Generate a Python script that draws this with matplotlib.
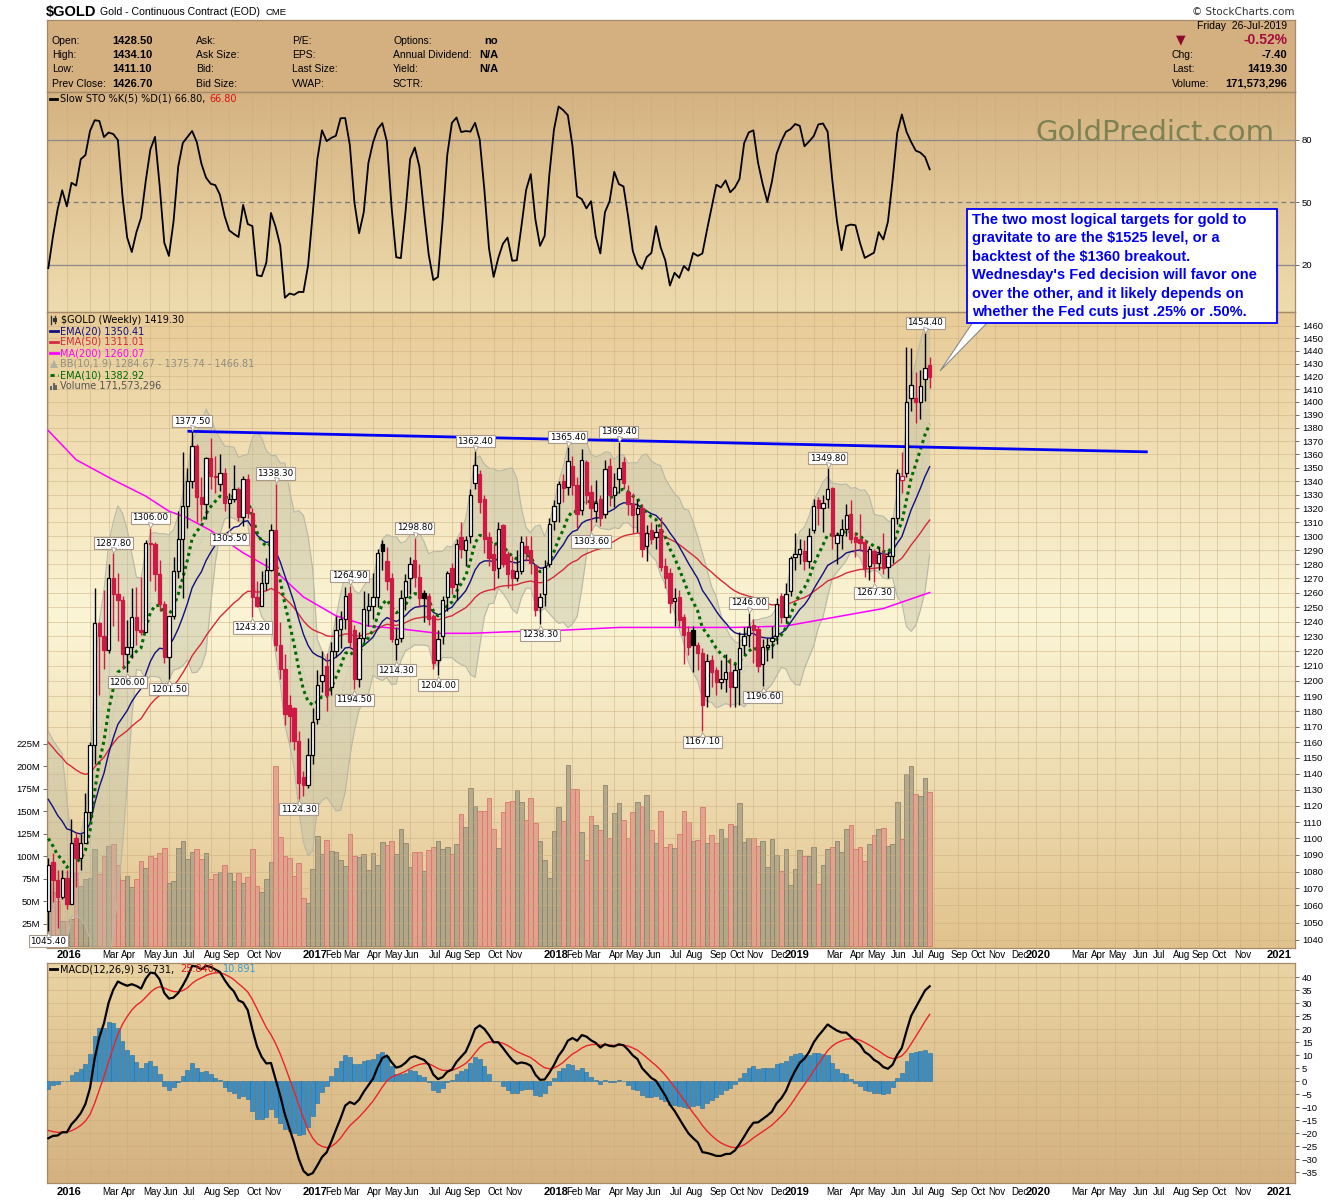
import numpy as np
import pandas as pd
import matplotlib
matplotlib.use("Agg")
import matplotlib.pyplot as plt
from matplotlib.colors import LinearSegmentedColormap
from matplotlib.patches import Rectangle, Polygon
from matplotlib.lines import Line2D
from matplotlib.ticker import NullLocator
import matplotlib.transforms as mtransforms

# ---------------------------------------------------------------- data
first_week = "2015-12-04"          # week ending date of first candle

# weeks before the first visible candle (only used to warm up STO / BB)
warm_open = [1177, 1164, 1142, 1088, 1081, 1076]
warm_high = [1180, 1180, 1143, 1097, 1091, 1080]
warm_low = [1160, 1139, 1085, 1074, 1062, 1052]
warm_close = [1164, 1142, 1088, 1081, 1076, 1057]

opens = [1057, 1086, 1075, 1065, 1076, 1061, 1100, 1088, 1097, 1116,
         1158, 1239, 1230, 1221, 1270, 1259, 1255, 1218, 1223, 1243,
         1234, 1233, 1295, 1294, 1273, 1252, 1216, 1244, 1275, 1298,
         1322, 1340, 1366, 1328, 1323, 1357, 1344, 1338, 1346, 1324,
         1327, 1334, 1314, 1342, 1317, 1257, 1251, 1267, 1276, 1304,
         1224, 1208, 1184, 1182, 1161, 1138, 1133, 1152, 1175, 1200,
         1210, 1196, 1220, 1235, 1242, 1260, 1234, 1201, 1229, 1248,
         1251, 1257, 1294, 1282, 1270, 1225, 1229, 1257, 1270, 1283,
         1271, 1260, 1258, 1244, 1214, 1230, 1257, 1277, 1266, 1299,
         1290, 1300, 1339, 1345, 1327, 1299, 1287, 1277, 1308, 1287,
         1276, 1270, 1275, 1293, 1290, 1279, 1250, 1259, 1280, 1311,
         1324, 1340, 1336, 1351, 1337, 1319, 1354, 1332, 1318, 1327,
         1316, 1351, 1330, 1342, 1354, 1332, 1323, 1316, 1320, 1293,
         1304, 1299, 1305, 1279, 1274, 1254, 1257, 1243, 1233, 1234,
         1224, 1219, 1190, 1214, 1207, 1199, 1201, 1206, 1196, 1208,
         1224, 1231, 1238, 1235, 1211, 1223, 1227, 1230, 1258, 1243,
         1261, 1285, 1287, 1289, 1282, 1304, 1326, 1320, 1327, 1335,
         1295, 1301, 1305, 1316, 1299, 1298, 1296, 1279, 1289, 1281,
         1287, 1278, 1286, 1313, 1341, 1346, 1403, 1403, 1400, 1418, 1428.5]
highs = [1088, 1091, 1081, 1081, 1081, 1112, 1104, 1103, 1128, 1160,
         1263, 1240, 1262, 1280, 1287.8, 1274, 1258, 1241, 1263, 1264,
         1271, 1297, 1306, 1296, 1283, 1254, 1244, 1285, 1318, 1362,
         1350, 1377.5, 1368, 1343, 1358, 1372, 1359, 1360, 1350, 1331,
         1352, 1336, 1344, 1345, 1320, 1268, 1275, 1284, 1309, 1338.3,
         1240, 1218, 1191, 1183, 1167, 1142, 1163, 1182, 1207, 1220,
         1219, 1226, 1244, 1247, 1264, 1264.9, 1238, 1233, 1261, 1260,
         1274, 1291, 1297, 1292, 1274, 1236, 1262, 1273, 1285, 1298.8,
         1280, 1262, 1260, 1245, 1234, 1258, 1275, 1281, 1298, 1310,
         1300, 1334, 1362.4, 1348, 1330, 1303, 1294, 1310, 1309, 1289,
         1286, 1290, 1300, 1300, 1300, 1280, 1260, 1283, 1313, 1326,
         1340, 1345, 1365.4, 1359, 1343, 1364, 1356, 1337, 1341, 1330,
         1356, 1357, 1346, 1369.4, 1358, 1337, 1331, 1327, 1323, 1308,
         1310, 1309, 1314, 1284, 1277, 1263, 1262, 1245, 1237, 1237,
         1226, 1222, 1218, 1217, 1209, 1214, 1218, 1215, 1211, 1233,
         1236, 1246, 1242, 1237, 1228, 1229, 1237, 1256, 1260, 1267,
         1286, 1302, 1298, 1297, 1306, 1327, 1328, 1330, 1349.8, 1336,
         1303, 1312, 1323, 1326, 1303, 1316, 1298, 1293, 1291, 1292,
         1302, 1289, 1313, 1349, 1362, 1443, 1442, 1423, 1425, 1454.4, 1435]
lows = [1045.4, 1062, 1047, 1064, 1058, 1061, 1071, 1081, 1097, 1111,
        1146, 1191, 1208, 1219, 1237, 1227, 1208, 1206, 1215, 1224,
        1231, 1233, 1268, 1261, 1247, 1212, 1201.5, 1242, 1270, 1256,
        1306, 1335, 1310, 1311, 1312, 1334, 1331, 1333, 1318, 1305.5,
        1325, 1311, 1307, 1313, 1243.2, 1250, 1251, 1262, 1275, 1220,
        1201, 1171, 1160, 1155, 1124.3, 1126, 1131, 1146, 1172, 1193,
        1180, 1191, 1216, 1222, 1235, 1222, 1194.5, 1196, 1226, 1237,
        1242, 1250, 1276, 1262, 1226, 1214.3, 1226, 1248, 1259, 1264,
        1250, 1240, 1238, 1208, 1204, 1225, 1247, 1259, 1255, 1284,
        1279, 1295, 1334, 1317, 1288, 1279, 1262, 1270, 1278, 1263,
        1262, 1268, 1273, 1282, 1273, 1244, 1238.3, 1251, 1278, 1304,
        1310, 1325, 1330, 1330, 1306, 1315, 1323, 1303.6, 1310, 1307,
        1313, 1322, 1321, 1331, 1334, 1315, 1302, 1303, 1285, 1282,
        1294, 1291, 1275, 1263, 1246, 1237, 1236, 1211, 1217, 1206,
        1207, 1167.1, 1183, 1196, 1191, 1195, 1193, 1183, 1183, 1184,
        1218, 1223, 1212, 1206, 1196.6, 1213, 1215, 1225, 1239, 1240,
        1258, 1276, 1280, 1276, 1277, 1302, 1308, 1303, 1320, 1291,
        1280, 1291, 1300, 1295, 1285, 1289, 1271, 1269, 1267.3, 1276,
        1273, 1270, 1281, 1309, 1331, 1343, 1393, 1384, 1387, 1401, 1411.1]
closes = [1084, 1075, 1065, 1076, 1061, 1097, 1088, 1097, 1116, 1158,
          1239, 1230, 1221, 1270, 1259, 1255, 1218, 1223, 1243, 1234,
          1233, 1295, 1294, 1273, 1252, 1216, 1244, 1275, 1298, 1322,
          1340, 1366, 1328, 1323, 1357, 1344, 1343, 1346, 1324, 1327,
          1334, 1314, 1342, 1317, 1257, 1251, 1267, 1276, 1304, 1224,
          1208, 1178, 1177, 1161, 1134, 1133, 1152, 1173, 1197, 1204,
          1191, 1220, 1234, 1242, 1258, 1226, 1201, 1229, 1249, 1251,
          1257, 1288, 1289, 1268, 1228, 1228, 1256, 1268, 1280, 1271,
          1256, 1256, 1242, 1212, 1228, 1255, 1274, 1264, 1294, 1291,
          1297, 1330, 1352, 1325, 1298, 1284, 1276, 1305, 1280, 1273,
          1270, 1275, 1296, 1288, 1281, 1248, 1257, 1278, 1309, 1322,
          1338, 1335, 1355, 1337, 1316, 1356, 1330, 1320, 1324, 1313,
          1349, 1330, 1336, 1350, 1339, 1323, 1315, 1320, 1291, 1302,
          1298, 1303, 1278, 1270, 1253, 1256, 1241, 1231, 1223, 1224,
          1219, 1184, 1213, 1206, 1199, 1201, 1206, 1196, 1207, 1222,
          1230, 1236, 1234, 1210, 1223, 1224, 1229, 1252, 1243, 1259,
          1284, 1287, 1291, 1282, 1300, 1322, 1320, 1324, 1334, 1300,
          1301, 1305, 1315, 1298, 1296, 1295, 1277, 1291, 1281, 1287,
          1277, 1286, 1313, 1346, 1344, 1400, 1413, 1400, 1412, 1426.7, 1419.3]
volume_millions = [70, 60, 50, 28, 28, 30, 82, 67, 75, 76,
                   108, 81, 100, 112, 114, 91, 74, 78, 66, 75,
                   95, 87, 101, 98, 104, 109, 70, 73, 109, 117,
                   97, 105, 108, 97, 104, 75, 80, 83, 90, 82,
                   73, 82, 70, 77, 108, 67, 61, 75, 94, 200,
                   122, 100, 98, 78, 93, 54, 48, 86, 123, 103,
                   118, 106, 105, 96, 89, 125, 101, 99, 103, 85,
                   104, 91, 116, 113, 117, 103, 130, 115, 88, 105,
                   105, 84, 107, 110, 117, 108, 110, 103, 114, 147,
                   133, 176, 156, 150, 150, 165, 130, 109, 149, 161,
                   162, 174, 160, 140, 165, 137, 117, 96, 76, 128,
                   155, 139, 202, 175, 175, 127, 96, 145, 135, 129,
                   179, 120, 148, 159, 141, 121, 149, 161, 156, 168,
                   129, 115, 150, 111, 114, 109, 125, 150, 138, 117,
                   118, 155, 115, 124, 115, 131, 121, 136, 134, 159,
                   116, 121, 121, 112, 117, 88, 119, 102, 84, 108,
                   68, 86, 107, 101, 101, 110, 69, 90, 108, 110,
                   117, 105, 130, 135, 108, 110, 95, 114, 124, 130,
                   132, 112, 114, 160, 119, 192, 200, 169, 167, 187, 171.57]

# 200-week MA (week index, value)
ma200_week = [0, 6, 14, 21, 26, 30, 35, 42, 49, 55, 62, 69, 76, 84, 91, 99,
              110, 123, 135, 148, 159, 166, 173, 180, 190]
ma200_value = [1378, 1356, 1341, 1329, 1318, 1313, 1304, 1288, 1275, 1257, 1244,
               1237, 1235, 1232, 1232, 1233, 1234, 1236, 1236, 1236, 1237, 1241,
               1245, 1249, 1260.07]

# starting values of the moving averages at the first candle
ema10_start, ema20_start, ema50_start = 1100, 1124, 1160
ema12_start, ema26_start, signal_start = 1084, 1106, -19

# labelled highs / lows
label_week = [14, 22, 31, 49, 65, 79, 92, 112, 123, 151, 168, 189,
              0, 17, 26, 39, 44, 54, 66, 75, 84, 106, 117, 141, 154, 178]
label_value = [1287.80, 1306.00, 1377.50, 1338.30, 1264.90, 1298.80, 1362.40,
               1365.40, 1369.40, 1246.00, 1349.80, 1454.40,
               1045.40, 1206.00, 1201.50, 1305.50, 1243.20, 1124.30, 1194.50,
               1214.30, 1204.00, 1238.30, 1303.60, 1167.10, 1196.60, 1267.30]
label_kind = ['h'] * 12 + ['l'] * 14

# blue resistance line (week index, price)
trend_week = [30, 237]
trend_price = [1377.5, 1361.9]

# axis labels shown per year (month numbers, 1 = year label)
axis_label_months = {2016: [1, 3, 4, 5, 6, 7, 8, 9, 10, 11],
                     2017: [1, 2, 3, 4, 5, 6, 7, 8, 9, 10, 11],
                     2018: [1, 2, 3, 4, 5, 6, 7, 8, 9, 10, 11, 12],
                     2019: [1, 3, 4, 5, 6, 7, 8, 9, 10, 11, 12],
                     2020: [1, 3, 4, 5, 6, 7, 8, 9, 10, 11],
                     2021: [1]}
month_names = ['Jan', 'Feb', 'Mar', 'Apr', 'May', 'Jun', 'Jul', 'Aug', 'Sep', 'Oct', 'Nov', 'Dec']

price_ticks = list(range(1040, 1461, 10))
volume_ticks_m = [25, 50, 75, 100, 125, 150, 175, 200, 225]
macd_ticks = list(range(-35, 41, 5))
sto_ticks = [20, 50, 80]

callout_text = ("The two most logical targets for gold to\n"
                "gravitate to are the $1525 level, or a\n"
                "backtest of the $1360 breakout.\n"
                "Wednesday's Fed decision will favor one\n"
                "over the other, and it likely depends on\n"
                "whether the Fed cuts just .25% or .50%.")

# ---------------------------------------------------------------- indicators
O = np.array(opens, float); Hh = np.array(highs, float)
Lw = np.array(lows, float); C = np.array(closes, float)
V = np.array(volume_millions, float) * 1e6
n = len(C)
idx = np.arange(n)
nw = len(warm_close)


def ema(values, span, seed):
    k = 2.0 / (span + 1)
    out = np.empty(len(values))
    out[0] = seed
    for j in range(1, len(values)):
        out[j] = out[j - 1] + k * (values[j] - out[j - 1])
    return out


ema10 = ema(C, 10, ema10_start)
ema20 = ema(C, 20, ema20_start)
ema50 = ema(C, 50, ema50_start)
macd = ema(C, 12, ema12_start) - ema(C, 26, ema26_start)
signal = ema(macd, 9, signal_start)
hist = macd - signal

allC = pd.Series(list(warm_close) + list(C))
allH = pd.Series(list(warm_high) + list(Hh))
allL = pd.Series(list(warm_low) + list(Lw))
mid = allC.rolling(10, min_periods=5).mean()
sd = allC.rolling(10, min_periods=5).std(ddof=0)
bb_mid = mid.values[nw:]
bb_up = (mid + 1.9 * sd).values[nw:]
bb_lo = (mid - 1.9 * sd).values[nw:]

hh = allH.rolling(5, min_periods=1).max()
ll = allL.rolling(5, min_periods=1).min()
fastk = 100 * (allC - ll) / (hh - ll)
slowk = fastk.rolling(3, min_periods=1).mean().values[nw:]

prevC = np.concatenate([[warm_close[-1]], C[:-1]])
up = C >= prevC

# ---------------------------------------------------------------- layout
W, Hpx = 1340, 1200
fig = plt.figure(figsize=(W / 100, Hpx / 100), dpi=100)
fig.patch.set_facecolor('white')
X0, X1 = 47, 1295
XMIN, XMAX = -0.28, 268.75
SANS = 'Liberation Sans'
LEG = 'DejaVu Sans'
SPINE = '#A58B6A'
GRID = '#C8AC7E'


def add_ax(y0, y1, z=1):
    a = fig.add_axes([X0 / W, 1 - y1 / Hpx, (X1 - X0) / W, (y1 - y0) / Hpx])
    a.set_zorder(z)
    return a


def background(y0, y1, stops):
    b = add_ax(y0, y1, z=0)
    cmap = LinearSegmentedColormap.from_list('bg', stops)
    b.imshow(np.linspace(0, 1, 256).reshape(-1, 1), aspect='auto', cmap=cmap,
             extent=[0, 1, 0, 1], origin='upper')
    b.set_xlim(0, 1); b.set_ylim(0, 1)
    b.axis('off')
    return b


def ftext(x, y, s, **kw):
    return fig.text(x / W, 1 - y / Hpx, s, **kw)


renderer = fig.canvas.get_renderer()


def text_runs(x, y, pieces, size=7, family=LEG, gap=4.5):
    for s, col in pieces:
        t = ftext(x, y, s.rstrip(), color=col, ha='left', va='center', fontsize=size,
                  family=family, zorder=40)
        x += t.get_window_extent(renderer=renderer).width
        if s.endswith(' '):
            x += gap
    return x


def swatch(x0, x1, y, color, ls='-', lw=2):
    fig.add_artist(Line2D([x0 / W, x1 / W], [1 - y / Hpx, 1 - y / Hpx], color=color,
                          lw=lw, ls=ls, transform=fig.transFigure, zorder=40))


def frect(x0, y0, x1, y1, **kw):
    fig.add_artist(Rectangle((x0 / W, 1 - y1 / Hpx), (x1 - x0) / W, (y1 - y0) / Hpx,
                             transform=fig.transFigure, **kw))


# month gridline positions
dates = pd.date_range(first_week, periods=280, freq='W-FRI')
first_idx = {}
for j, d in enumerate(dates):
    key = (d.year, d.month)
    if key not in first_idx:
        first_idx[key] = j
grid_x = [v for k, v in first_idx.items() if XMIN <= v <= XMAX]


def style_panel(a):
    a.set_xlim(XMIN, XMAX)
    a.patch.set_visible(False)
    for s in a.spines.values():
        s.set_color(SPINE); s.set_linewidth(0.9)
    a.set_xticks(grid_x)
    a.tick_params(axis='x', length=0, labelbottom=False)
    a.yaxis.tick_right()
    a.tick_params(axis='y', which='major', direction='out', length=3, width=0.6,
                  colors='#555555', labelsize=6.8, labelcolor='black', pad=2)
    a.grid(True, color=GRID, lw=0.6, alpha=0.55, zorder=1)
    a.set_axisbelow(True)


def axis_labels(ypx):
    for yr, months in axis_label_months.items():
        for m in months:
            if (yr, m) not in first_idx:
                continue
            pos = first_idx[(yr, m)]
            xp = X0 + (pos + 0.4 - XMIN) / (XMAX - XMIN) * (X1 - X0)
            if m == 1:
                ftext(xp, ypx, str(yr), ha='center', va='center', fontsize=8,
                      fontweight='bold', family=SANS)
            else:
                ftext(xp, ypx, month_names[m - 1], ha='center', va='center',
                      fontsize=7, family=SANS)


# ---------------------------------------------------------------- title / header
ftext(46, 12, '$GOLD', fontsize=10.5, fontweight='bold', family=SANS, va='center')
ftext(100, 12, 'Gold - Continuous Contract (EOD)', fontsize=7.6, family=SANS, va='center')
ftext(266, 12.5, 'CME', fontsize=6.8, family=SANS, va='center')
ftext(1294, 12, '\u00a9 StockCharts.com', fontsize=7.5, family=LEG, va='center',
      ha='right', color='#333333')

hdr = add_ax(20, 92, z=1)
hdr.set_facecolor('#D4B081')
hdr.set_xticks([]); hdr.set_yticks([])
for s in hdr.spines.values():
    s.set_color(SPINE); s.set_linewidth(0.9)

LBL, VAL = 7.5, 8.0
rows_y = [41, 55, 69, 84]
for lbl, val, yy in zip(['Open:', 'High:', 'Low:', 'Prev Close:'],
                        ['1428.50', '1434.10', '1411.10', '1426.70'], rows_y):
    ftext(52, yy, lbl, fontsize=LBL, family=SANS, va='center')
    ftext(112, yy, val, fontsize=VAL, family=SANS, fontweight='bold', va='center')
for lbl, yy in zip(['Ask:', 'Ask Size:', 'Bid:', 'Bid Size:'], rows_y):
    ftext(196, yy, lbl, fontsize=LBL, family=SANS, va='center')
for lbl, yy in zip(['P/E:', 'EPS:', 'Last Size:', 'VWAP:'], rows_y):
    ftext(292, yy, lbl, fontsize=LBL, family=SANS, va='center')
for lbl, val, yy in zip(['Options:', 'Annual Dividend:', 'Yield:', 'SCTR:'],
                        ['no', 'N/A', 'N/A', ''], rows_y):
    ftext(393, yy, lbl, fontsize=LBL, family=SANS, va='center')
    ftext(498, yy, val, fontsize=VAL, family=SANS, fontweight='bold', va='center', ha='right')

ftext(1287, 26, 'Friday  26-Jul-2019', fontsize=LBL, family=SANS, va='center', ha='right')
ftext(1181, 40, '\u25bc', fontsize=9, family=LEG, va='center', ha='center', color='#8C0A2E')
ftext(1287, 40, '-0.52%', fontsize=10, family=SANS, fontweight='bold', va='center',
      ha='right', color='#A3103D')
for lbl, val, yy in zip(['Chg:', 'Last:', 'Volume:'], ['-7.40', '1419.30', '171,573,296'],
                        [55, 69, 84]):
    ftext(1172, yy, lbl, fontsize=LBL, family=SANS, va='center')
    ftext(1287, yy, val, fontsize=VAL, family=SANS, fontweight='bold', va='center', ha='right')

# ---------------------------------------------------------------- STO panel
background(92, 312, [(0, '#D5B281'), (1, '#EEDCAE')])
ax_s = add_ax(92, 312, z=2)
style_panel(ax_s)
ax_s.set_ylim(-2.6, 103)
ax_s.set_yticks(sto_ticks)
ax_s.grid(False, axis='y')
for lvl in (80, 20):
    ax_s.axhline(lvl, color='#8A8A8A', lw=0.9, zorder=2)
ax_s.axhline(50, color='#7A7A7A', lw=0.9, ls=(0, (4, 3)), zorder=2)
ax_s.plot(idx, slowk, color='black', lw=1.3, zorder=5)
for lab in ax_s.get_yticklabels():
    lab.set_family(SANS)
swatch(50, 57, 98.5, 'black', lw=2)
text_runs(60, 98.5, [('Slow STO %K(5) %D(1) 66.80, ', 'black'), ('66.80', '#E01010')])

ftext(1155, 133, 'GoldPredict.com', fontsize=21, family=LEG, color='#7E8152',
      ha='center', va='center', zorder=35)

# ---------------------------------------------------------------- price panel
background(312, 948, [(0, '#E8CB97'), (0.48, '#FBF5D6'), (1, '#E1C28C')])
ax_v = add_ax(312, 948, z=1)
ax_v.set_xlim(XMIN, XMAX)
ax_v.set_ylim(-1.7e6, 705e6)
ax_v.patch.set_visible(False)
for s in ax_v.spines.values():
    s.set_visible(False)
ax_v.set_xticks([])
ax_v.set_yticks([t * 1e6 for t in volume_ticks_m])
ax_v.set_yticklabels([f'{t}M' for t in volume_ticks_m])
ax_v.tick_params(axis='y', direction='out', length=3, width=0.6, colors='#555555',
                 labelsize=6.8, labelcolor='black', pad=2)
for lab in ax_v.get_yticklabels():
    lab.set_family(SANS)
vol_face = np.where(up, '#ABA187', '#E29C8C')
vol_edge = np.where(up, '#8C846E', '#D6766C')
ax_v.bar(idx, V, width=1.0, color=vol_face, edgecolor=vol_edge, linewidth=0.7,
         alpha=0.85, zorder=2)

ax_p = add_ax(312, 948, z=2)
ax_p.set_yscale('log')
style_panel(ax_p)
ax_p.set_ylim(1035.4, 1471.3)
ax_p.set_yticks(price_ticks)
ax_p.set_yticklabels([str(t) for t in price_ticks])
ax_p.yaxis.set_minor_locator(NullLocator())
for a in (ax_s, ax_p):
    for lab in a.get_yticklabels():
        lab.set_family(SANS)

# Bollinger bands
ax_p.fill_between(idx, bb_lo, bb_up, color='#B9BBA2', alpha=0.4, lw=0, zorder=2)
ax_p.plot(idx, bb_up, color='#B8B8A8', lw=0.8, zorder=2.1)
ax_p.plot(idx, bb_lo, color='#B8B8A8', lw=0.8, zorder=2.1)
ax_p.plot(idx, bb_mid, color='#C9C9C0', lw=0.8, ls=(0, (1.5, 1.5)), zorder=2.2)

ax_p.plot(ma200_week, ma200_value, color='#FF00FF', lw=1.1, zorder=3)
ax_p.plot(idx, ema50, color='#D42A3C', lw=1.0, zorder=3)
ax_p.plot(idx, ema20, color='#101080', lw=1.0, zorder=3)
ax_p.plot(idx, ema10, color='#006A00', lw=2.2, ls=(0, (1, 1.2)), zorder=3.5)
ax_p.plot(trend_week, trend_price, color='#0000F5', lw=2.0, zorder=4,
          solid_capstyle='butt')

RED = '#CC1A44'
for i in range(n):
    col = 'black' if up[i] else RED
    filled = C[i] < O[i]
    ax_p.plot([i, i], [Lw[i], Hh[i]], color=col, lw=1.0, zorder=5,
              solid_capstyle='butt')
    lo_b, hi_b = min(O[i], C[i]), max(O[i], C[i])
    if hi_b - lo_b < 0.6:
        hi_b = lo_b + 0.6
    ax_p.add_patch(Rectangle((i - 0.36, lo_b), 0.72, hi_b - lo_b,
                             facecolor=col if filled else 'white', edgecolor=col,
                             lw=0.9, zorder=6))

for wk, val, kind in zip(label_week, label_value, label_kind):
    dy = 10 if kind == 'h' else -10.5
    ax_p.annotate(f'{val:.2f}', xy=(wk, val), xytext=(0, dy * 0.72),
                  textcoords='offset points', ha='center', va='center',
                  fontsize=6.3, family=LEG, zorder=20, annotation_clip=False,
                  bbox=dict(boxstyle='square,pad=0.18', fc='white', ec='#A8998A', lw=0.8))
    tr = mtransforms.offset_copy(ax_p.transData, fig=fig, x=0,
                                 y=(3.2 if kind == 'h' else -3.2) * 0.72, units='points')
    ax_p.plot([wk], [val], marker='v' if kind == 'h' else '^', ms=3.6, mfc='white',
              mec='#A8998A', mew=0.6, transform=tr, zorder=21, clip_on=False)

# price legend
leg_y = [320, 331, 342, 353, 364, 375, 385.5]
fig.add_artist(Line2D([51 / W, 51 / W], [1 - (leg_y[0] + 4) / Hpx, 1 - (leg_y[0] - 4) / Hpx],
                      color='#333333', lw=1, transform=fig.transFigure, zorder=40))
fig.add_artist(Line2D([55 / W, 55 / W], [1 - (leg_y[0] + 3) / Hpx, 1 - (leg_y[0] - 4) / Hpx],
                      color='#333333', lw=1, transform=fig.transFigure, zorder=40))
frect(52.5, leg_y[0] - 2, 56.5, leg_y[0] + 2, fc='#333333', ec='none', zorder=40)
text_runs(61, leg_y[0], [('$GOLD (Weekly) 1419.30', 'black')])
swatch(50, 58, leg_y[1], '#101080', lw=2)
text_runs(60, leg_y[1], [('EMA(20) 1350.41', '#101080')])
swatch(50, 58, leg_y[2], '#D42A3C', lw=2)
text_runs(60, leg_y[2], [('EMA(50) 1311.01', '#D42A3C')])
swatch(50, 58, leg_y[3], '#FF00FF', lw=2)
text_runs(60, leg_y[3], [('MA(200) 1260.07', '#FF00FF')])
fig.add_artist(Polygon([[50 / W, 1 - (leg_y[4] + 4) / Hpx], [54 / W, 1 - (leg_y[4] - 4) / Hpx],
                        [58 / W, 1 - (leg_y[4] + 4) / Hpx]], closed=True,
                       transform=fig.transFigure, fc='#B0B0A0', ec='none', zorder=40))
text_runs(60, leg_y[4], [('BB(10,1.9) 1284.67 - 1375.74 - 1466.81', '#8F8F84')])
swatch(50, 58, leg_y[5], '#006A00', ls=(0, (1.5, 1.2)), lw=2)
text_runs(60, leg_y[5], [('EMA(10) 1382.92', '#006A00')])
for bx, bh in zip([50, 52.5, 55], [4, 7, 5]):
    frect(bx, leg_y[6] + 4 - bh, bx + 2, leg_y[6] + 4, fc='#666666', ec='none', zorder=40)
text_runs(60, leg_y[6], [('Volume 171,573,296', '#555555')])

axis_labels(955.5)

# ---------------------------------------------------------------- MACD panel
background(963, 1183, [(0, '#EAD4A3'), (1, '#D5B180')])
ax_m = add_ax(963, 1183, z=2)
style_panel(ax_m)
ax_m.set_ylim(-39.2, 45.4)
ax_m.set_yticks(macd_ticks)
for lab in ax_m.get_yticklabels():
    lab.set_family(SANS)
ax_m.bar(idx, hist, width=0.85, color='#3C8EC2', edgecolor='#2A6D98', lw=0.4, zorder=3)
ax_m.plot(idx, signal, color='#E8252A', lw=1.0, zorder=4)
ax_m.plot(idx, macd, color='black', lw=1.6, zorder=5)
swatch(50, 57, 969, 'black', lw=2)
text_runs(60, 969, [('MACD(12,26,9) 36.731, ', 'black'), ('25.840, ', '#E01010'),
                    ('10.891', '#3A9AD0')], gap=6)

axis_labels(1192)

# ---------------------------------------------------------------- callout
fig.add_artist(Polygon([[973 / W, 1 - 322 / Hpx], [988 / W, 1 - 322 / Hpx],
                        [940 / W, 1 - 371 / Hpx]], closed=True, transform=fig.transFigure,
                       fc='white', ec='#8A8A8A', lw=0.8, zorder=44))
frect(967, 209, 1277, 323, fc='white', ec='#0000FF', lw=1.3, zorder=44.5)
ftext(972, 213, callout_text, ha='left', va='top', fontsize=10.5, fontweight='bold',
      color='#0000EE', family=SANS, linespacing=1.40, zorder=45)

fig.savefig('out.png', dpi=100)
